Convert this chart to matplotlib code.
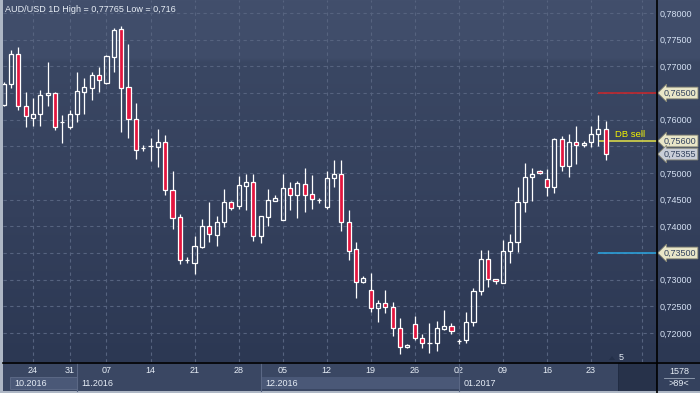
import numpy as np
import matplotlib
matplotlib.use("Agg")
import matplotlib.pyplot as plt
from matplotlib.patches import Rectangle, Polygon
from matplotlib.transforms import Affine2D, blended_transform_factory
from matplotlib.lines import Line2D

plt.rcParams['font.family'] = ['Liberation Sans', 'DejaVu Sans']

# ---------------- data (daily AUD/USD candles) ----------------
opens = [0.7628, 0.7666, 0.7723, 0.7626, 0.7604, 0.7610, 0.7646, 0.7650, 0.7596, 0.7587,
         0.7610, 0.7652, 0.7660, 0.7683, 0.7669, 0.7718, 0.7770, 0.7661, 0.7601, 0.7546,
         0.7550, 0.7549, 0.7559, 0.7469, 0.7417, 0.7337, 0.7332, 0.7362, 0.7401, 0.7384,
         0.7409, 0.7446, 0.7438, 0.7476, 0.7483, 0.7382, 0.7418, 0.7448, 0.7412, 0.7471,
         0.7459, 0.7479, 0.7460, 0.7449, 0.7437, 0.7490, 0.7498, 0.7409, 0.7358, 0.7296,
         0.7281, 0.7246, 0.7256, 0.7248, 0.7209, 0.7173, 0.7217, 0.7190, 0.7181, 0.7181,
         0.7208, 0.7214, 0.7185, 0.7186, 0.7221, 0.7279, 0.7338, 0.7302, 0.7293, 0.7354,
         0.7370, 0.7446, 0.7492, 0.7504, 0.7488, 0.7474, 0.7563, 0.7513, 0.7559, 0.7552,
         0.7559, 0.7573, 0.7582]
highs = [0.7670, 0.7731, 0.7737, 0.7651, 0.7640, 0.7656, 0.7708, 0.7652, 0.7609, 0.7618,
         0.7690, 0.7678, 0.7689, 0.7699, 0.7721, 0.7772, 0.77765, 0.7742, 0.7631, 0.7553,
         0.7565, 0.7583, 0.7571, 0.7504, 0.7423, 0.7342, 0.7382, 0.7414, 0.7446, 0.7419,
         0.7470, 0.7448, 0.7494, 0.7498, 0.7498, 0.7419, 0.7470, 0.7459, 0.7498, 0.7483,
         0.7485, 0.7509, 0.7496, 0.7454, 0.7504, 0.7524, 0.7524, 0.7431, 0.7371, 0.7306,
         0.7313, 0.7262, 0.7281, 0.7258, 0.7228, 0.7179, 0.7231, 0.7198, 0.7219, 0.7223,
         0.7244, 0.7218, 0.7188, 0.7239, 0.7284, 0.7356, 0.7356, 0.7302, 0.7374, 0.7386,
         0.7473, 0.7519, 0.7509, 0.7505, 0.7508, 0.7565, 0.7569, 0.7574, 0.7588, 0.7560,
         0.7588, 0.7609, 0.7598]
lows = [0.7625, 0.7659, 0.7619, 0.7586, 0.7588, 0.7589, 0.7626, 0.7581, 0.7557, 0.7582,
        0.7596, 0.7611, 0.7637, 0.7651, 0.7666, 0.7690, 0.7577, 0.7566, 0.7526, 0.7542,
        0.7523, 0.7512, 0.7459, 0.7395, 0.7329, 0.7332, 0.7311, 0.7360, 0.7371, 0.7363,
        0.7398, 0.7431, 0.7433, 0.7431, 0.7373, 0.7369, 0.7401, 0.7448, 0.7412, 0.7431,
        0.7416, 0.7427, 0.7433, 0.7444, 0.7433, 0.7474, 0.7392, 0.7336, 0.7266, 0.7294,
        0.7240, 0.7221, 0.7238, 0.7195, 0.7160, 0.7171, 0.7187, 0.7172, 0.7162, 0.7167,
        0.7206, 0.7199, 0.7179, 0.7181, 0.7214, 0.7271, 0.7287, 0.7291, 0.7293, 0.7331,
        0.7351, 0.7427, 0.7448, 0.7499, 0.7457, 0.7463, 0.7504, 0.7493, 0.7517, 0.7549,
        0.7549, 0.7551, 0.7524]
closes = [0.7667, 0.7723, 0.7626, 0.7607, 0.7610, 0.7646, 0.7650, 0.7587, 0.7596, 0.7610,
          0.7654, 0.7661, 0.7683, 0.7674, 0.7719, 0.7768, 0.7660, 0.7601, 0.7543, 0.7546,
          0.7550, 0.7559, 0.7468, 0.7416, 0.7336, 0.7337, 0.7363, 0.7401, 0.7385, 0.7408,
          0.7445, 0.7435, 0.7477, 0.7483, 0.7381, 0.7419, 0.7449, 0.7454, 0.7471, 0.7459,
          0.7481, 0.7459, 0.7451, 0.7449, 0.7490, 0.7498, 0.7409, 0.7354, 0.7296, 0.7303,
          0.7246, 0.7256, 0.7248, 0.7209, 0.7173, 0.7178, 0.7190, 0.7181, 0.7181, 0.7209,
          0.7214, 0.7204, 0.7185, 0.7221, 0.7279, 0.7338, 0.7301, 0.7298, 0.7354, 0.7370,
          0.7446, 0.7492, 0.7499, 0.7500, 0.7474, 0.7563, 0.7513, 0.7559, 0.7552, 0.7556,
          0.7573, 0.7582, 0.75355]

tick_idx = [4, 9, 14, 20, 26, 32, 38, 44, 50, 56, 62, 68, 74, 80, 87]
tick_labels = ['24', '31', '07', '14', '21', '28', '05', '12', '19', '26',
               '02', '09', '16', '23', '30']
month_starts = [0.9, 10, 35, 62]
month_labels = ['10.2016', '11.2016', '12.2016', '01.2017']
price_ticks = [0.720, 0.725, 0.730, 0.735, 0.740, 0.745, 0.750, 0.755,
               0.760, 0.765, 0.770, 0.775, 0.780]
hidden_ticks = [0.735, 0.755, 0.765]   # covered by the price tags
level_values = [0.765, 0.756, 0.735]
level_colors = ['#c1272d', '#d6d64a', '#2b9fd8']
level_start = 81
last_price = 0.75355
title = 'AUD/USD 1D High = 0,77765 Low = 0,716'

# ---------------- figure ----------------
W, H = 700, 393
fig = plt.figure(figsize=(W / 100, H / 100), dpi=100)
fig.patch.set_facecolor('#3a4763')
pix = Affine2D().scale(1.0 / W, -1.0 / H).translate(0, 1) + fig.transFigure

# gradient background for chart + price scale
bg = fig.add_axes([0, 1 - 362 / H, 1, 362 / H])
bg.axis('off')
stops_y = [0.0, 0.16, 0.17, 0.6, 1.0]
stops_c = [(66, 79, 108), (63, 76, 105), (58, 71, 99), (52, 64, 92), (44, 56, 83)]
yy = np.linspace(0, 1, 362)
grad = np.zeros((362, 1, 3))
for k in range(3):
    grad[:, 0, k] = np.interp(yy, stops_y, [c[k] for c in stops_c]) / 255.0
bg.imshow(grad, aspect='auto', extent=[0, 1, 0, 1])

ax = fig.add_axes([3 / W, 1 - 362 / H, 654 / W, 362 / H])
ax.set_facecolor('none')
for s in ax.spines.values():
    s.set_visible(False)
ax.set_xlim(-0.095, 89.0)
ax.set_ylim(0.714556, 0.782438)

ax.set_xticks(tick_idx, tick_labels)
ylabels = ['' if any(abs(v - t) < 1e-9 for t in hidden_ticks)
           else '{:.5f}'.format(v).replace('.', ',') for v in price_ticks]
ax.set_yticks(price_ticks, ylabels)
ax.yaxis.tick_right()
ax.tick_params(axis='x', length=0, pad=3.2, labelsize=6.5, colors='#e6edf6')
ax.tick_params(axis='y', length=0, pad=1.6, labelsize=6.5, colors='#d4e0f2')
ax.get_xticklabels()[-1].set_color('#5d6a84')
ax.grid(True, color='#56637f', lw=0.8, linestyle=(0, (3, 3)))
ax.set_axisbelow(True)

# candles
o = np.array(opens); c = np.array(closes); h = np.array(highs); l = np.array(lows)
idx = np.arange(len(o))
top = np.maximum(o, c)
bot = np.minimum(o, c)
up = c >= o
ax.vlines(idx, top, h, color='white', lw=0.9, zorder=3)
ax.vlines(idx, l, bot, color='white', lw=0.9, zorder=3)
face = ['none' if u else '#e3153e' for u in up]
ax.bar(idx, top - bot, bottom=bot, width=0.56, color=face, edgecolor='white',
       linewidth=0.9, zorder=4)

# horizontal levels
xr = ax.get_xlim()[1]
for v, col in zip(level_values, level_colors):
    ax.hlines(v, level_start - 0.05, xr, color=col, lw=1.2, zorder=2)
ax.text(83.3, 0.756 + 0.0003, 'DB sell', color='#f4f400', fontsize=6.8,
        ha='left', va='bottom', zorder=5)

# price tags on the scale
btr = blended_transform_factory(ax.transAxes, ax.transData)
tag_vals = level_values + [last_price]
tag_fc = ['#e9e6c8', '#e9e6c8', '#e9e6c8', '#c9ced8']
for v, fc in zip(tag_vals, tag_fc):
    ax.annotate('{:.5f}'.format(v).replace('.', ','), xy=(1.0, v), xycoords=btr,
                xytext=(7, 0), textcoords='offset pixels', ha='left', va='center',
                fontsize=6.5, color='#34435f', annotation_clip=False, zorder=10,
                bbox=dict(boxstyle='larrow,pad=0.15', fc=fc, ec='#8d8c78', lw=0.6))

# title
fig.text(5, 9.5, title, transform=pix, color='#e8eef6', fontsize=6.5,
         ha='left', va='center')

# bottom strip decorations
bx = blended_transform_factory(ax.transData, pix)
fig.add_artist(Rectangle((month_starts[0], 377), month_starts[1] - month_starts[0], 12,
                         transform=bx, fc='#4a5877', ec='#5f6c89', lw=0.6))
fig.add_artist(Rectangle((month_starts[2], 377), month_starts[3] - month_starts[2], 12,
                         transform=bx, fc='#4a5877', ec='none'))
for m in month_starts[1:]:
    fig.add_artist(Line2D([m, m], [363, 391], transform=bx, color='#5b6885', lw=0.8))
for m, lab in zip(month_starts, month_labels):
    fig.text(m + 0.6, 383.5, lab, transform=bx, color='#e6edf6', fontsize=6.5,
             ha='left', va='center')

fig.add_artist(Rectangle((618, 363), 38, 28, transform=pix, fc='#27324a', ec='#1f2940', lw=0.6))
fig.add_artist(Rectangle((658, 363), 42, 28, transform=pix, fc='#34415d', ec='none'))
fig.text(679, 371, '1578', transform=pix, color='#e6edf6', fontsize=6.5, ha='center', va='center')
fig.add_artist(Line2D([664, 694], [377.5, 377.5], transform=pix, color='#9aa6b8', lw=0.6))
fig.text(679, 384, '>89<', transform=pix, color='#e6edf6', fontsize=6.5, ha='center', va='center')

# small marker near bottom
fig.add_artist(Polygon([[609, 360], [615, 360], [612, 356]], closed=True, transform=pix,
                       fc='#243049', ec='none'))
fig.text(621, 357.5, '5', transform=pix, color='#e6edf6', fontsize=6.5, ha='center', va='center')

# frame lines and borders
fig.add_artist(Line2D([657, 657], [0, 393], transform=pix, color='black', lw=1.2))
fig.add_artist(Line2D([3, 700], [362.5, 362.5], transform=pix, color='black', lw=1.2))
fig.add_artist(Rectangle((0, 0), 3, 393, transform=pix, fc='#aeb7c5', ec='none'))
fig.add_artist(Rectangle((0, 391), 700, 2, transform=pix, fc='#aeb7c5', ec='none'))

fig.savefig('out.png', dpi=100, facecolor=fig.get_facecolor())
